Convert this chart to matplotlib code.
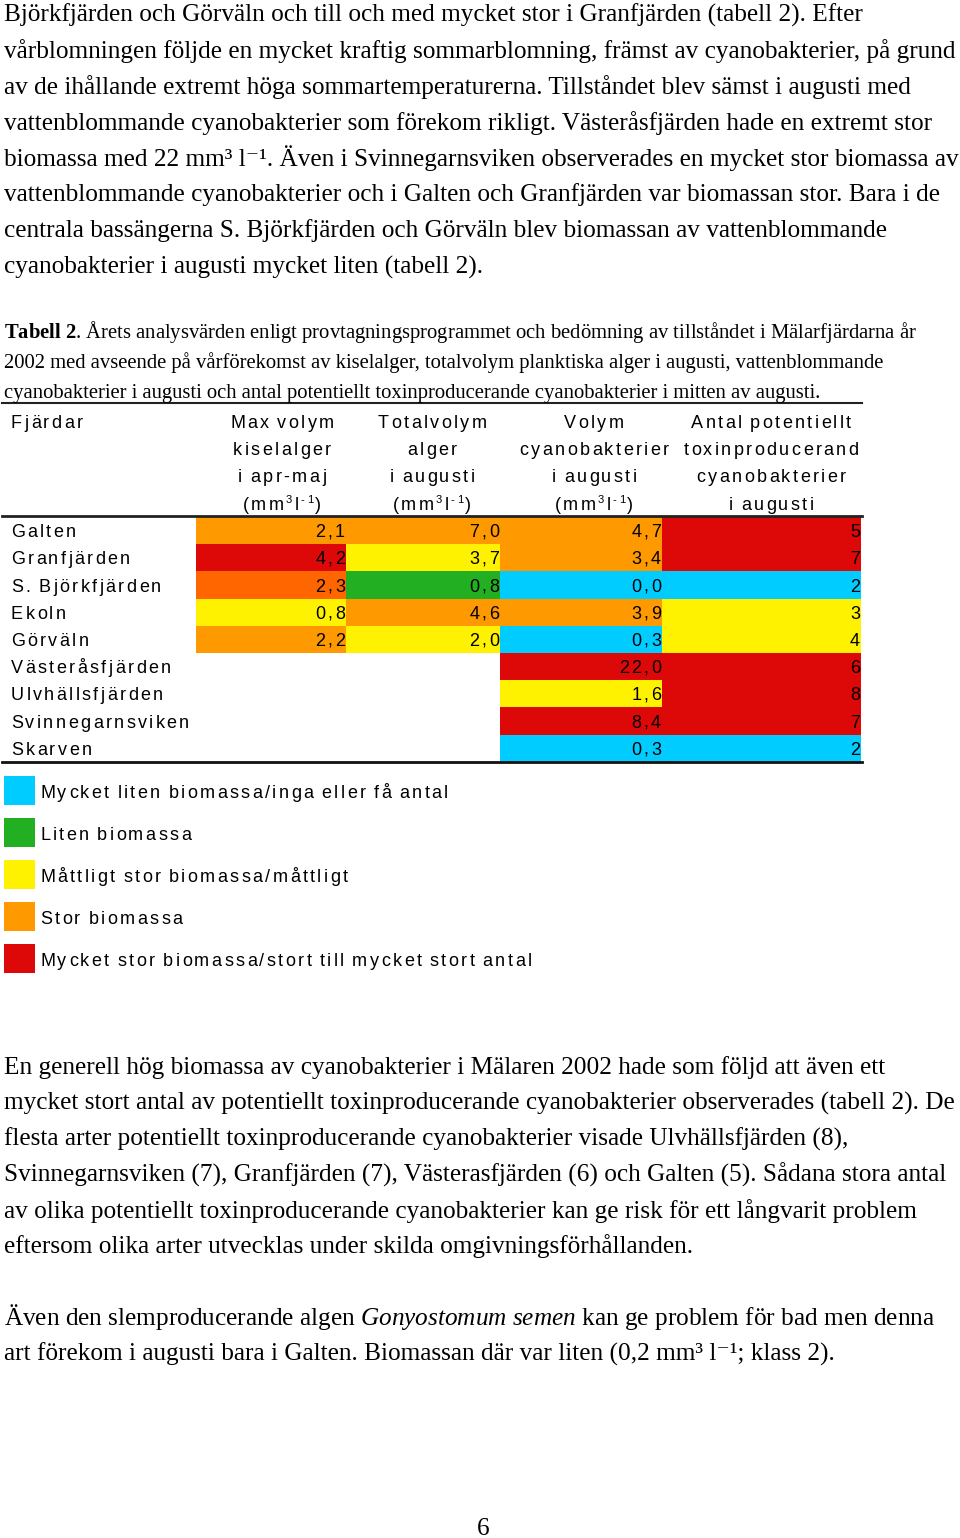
import matplotlib
matplotlib.use("Agg")
import matplotlib.pyplot as plt
from matplotlib.font_manager import FontProperties, findfont, get_font

plt.rcParams['mathtext.fontset'] = 'custom'
plt.rcParams['mathtext.rm'] = 'Liberation Serif'
plt.rcParams['mathtext.it'] = 'Liberation Serif:italic'
plt.rcParams['mathtext.bf'] = 'Liberation Serif:bold'

# text of the page
para1 = [
    "Björkfjärden och Görväln och till och med mycket stor i Granfjärden (tabell 2). Efter",
    "vårblomningen följde en mycket kraftig sommarblomning, främst av cyanobakterier, på grund",
    "av de ihållande extremt höga sommartemperaturerna. Tillståndet blev sämst i augusti med",
    "vattenblommande cyanobakterier som förekom rikligt. Västeråsfjärden hade en extremt stor",
    "biomassa med 22 mm³ l⁻¹. Även i Svinnegarnsviken observerades en mycket stor biomassa av",
    "vattenblommande cyanobakterier och i Galten och Granfjärden var biomassan stor. Bara i de",
    "centrala bassängerna S. Björkfjärden och Görväln blev biomassan av vattenblommande",
    "cyanobakterier i augusti mycket liten (tabell 2).",
]
caption = [
    r"$\mathbf{Tabell\ 2}$. Årets analysvärden enligt provtagningsprogrammet och bedömning av tillståndet i Mälarfjärdarna år",
    "2002 med avseende på vårförekomst av kiselalger, totalvolym planktiska alger i augusti, vattenblommande",
    "cyanobakterier i augusti och antal potentiellt toxinproducerande cyanobakterier i mitten av augusti.",
]
para2 = [
    "En generell hög biomassa av cyanobakterier i Mälaren 2002 hade som följd att även ett",
    "mycket stort antal av potentiellt toxinproducerande cyanobakterier observerades (tabell 2). De",
    "flesta arter potentiellt toxinproducerande cyanobakterier visade Ulvhällsfjärden (8),",
    "Svinnegarnsviken (7), Granfjärden (7), Västerasfjärden (6) och Galten (5). Sådana stora antal",
    "av olika potentiellt toxinproducerande cyanobakterier kan ge risk för ett långvarit problem",
    "eftersom olika arter utvecklas under skilda omgivningsförhållanden.",
]
para3 = [
    r"Även den slemproducerande algen $\mathit{Gonyostomum\ semen}$ kan ge problem för bad men denna",
    "art förekom i augusti bara i Galten. Biomassan där var liten (0,2 mm³ l⁻¹; klass 2).",
]

# table data
fjardar = ["Galten", "Granfjärden", "S. Björkfjärden", "Ekoln", "Görväln",
           "Västeråsfjärden", "Ulvhällsfjärden", "Svinnegarnsviken", "Skarven"]
headers = [
    ["Max volym", "kiselalger", "i apr-maj"],
    ["Totalvolym", "alger", "i augusti"],
    ["Volym", "cyanobakterier", "i augusti"],
    ["Antal potentiellt", "toxinproducerand", "cyanobakterier", "i augusti"],
]
kiselalger = [2.1, 4.2, 2.3, 0.8, 2.2]
kiselalger_klass = ["stor", "mstor", "stor2", "mattl", "stor"]
totalvolym = [7.0, 3.7, 0.8, 4.6, 2.0]
totalvolym_klass = ["stor", "mattl", "liten", "stor", "mattl"]
cyano = [4.7, 3.4, 0.0, 3.9, 0.3, 22.0, 1.6, 8.4, 0.3]
cyano_klass = ["stor", "stor", "mliten", "stor", "mliten", "mstor", "mattl", "mstor", "mliten"]
antal = [5, 7, 2, 3, 4, 6, 8, 7, 2]
antal_klass = ["mstor", "mstor", "mliten", "mattl", "mattl", "mstor", "mstor", "mstor", "mliten"]

colors = {"mliten": "#00CCFF", "liten": "#22B022", "mattl": "#FFF200",
          "stor": "#FF9900", "stor2": "#FF6600", "mstor": "#DD0808"}
legend_keys = ["mliten", "liten", "mattl", "stor", "mstor"]
legend_labels = ["Mycket liten biomassa/inga eller få antal",
                 "Liten biomassa",
                 "Måttligt stor biomassa/måttligt",
                 "Stor biomassa",
                 "Mycket stor biomassa/stort till mycket stort antal"]

fig = plt.figure(figsize=(9.6, 15.38), dpi=100)
ax = fig.add_axes([0, 0, 1, 1])
ax.set_xlim(0, 960)
ax.set_ylim(1538, 0)
ax.axis("off")

serif = ["Liberation Serif", "DejaVu Serif"]
sans = "Liberation Sans"
TS = 13  # table font size
SP = 2.4  # letter spacing in pixels


def adv(ch, size):
    f = get_font(findfont(FontProperties(family=sans)))
    f.set_size(size, 100)
    w = f.load_char(ord(ch)).linearHoriAdvance / 65536
    return w - SP + 1 if ch == " " else w


def spaced(x, y, segments, ha="left"):
    # letter-spaced sans text, segments: (text, size, raise)
    chars = [(c, s, d, adv(c, s)) for t, s, d in segments for c in t]
    total = sum(c[3] for c in chars) + SP * (len(chars) - 1)
    cx = x - total if ha == "right" else x - total / 2 if ha == "center" else x
    for c, s, d, w in chars:
        if c != " ":
            ax.text(cx, y - d, c, fontsize=s, family=sans, va="baseline")
        cx += w + SP


for i, line in enumerate(para1):
    ax.text(4, 22 + i * 35.9, line, fontsize=18.2, family=serif, va="baseline")
for i, line in enumerate(caption):
    ax.text(4, 338 + i * 30, line, fontsize=14.9, family=serif, va="baseline")
for i, line in enumerate(para2):
    ax.text(4, 1074 + i * 35.9, line, fontsize=18.2, family=serif, va="baseline")
for i, line in enumerate(para3):
    ax.text(4, 1325 + i * 35.9, line, fontsize=18.2, family=serif, va="baseline")
ax.text(483, 1535, "6", fontsize=18.2, family=serif, ha="center", va="baseline")

# table
row_top = 517
row_h = 27.2
n = len(fjardar)
rows = [row_top + row_h * (i + 0.5) for i in range(n)]
cols = [(196, 346), (346, 500), (500, 662), (662, 861)]
col_vals = [kiselalger, totalvolym, cyano, antal]
col_klass = [kiselalger_klass, totalvolym_klass, cyano_klass, antal_klass]

for (x0, x1), vals, kl in zip(cols, col_vals, col_klass):
    ax.barh(rows[:len(vals)], x1 - x0, left=x0, height=row_h,
            color=[colors[k] for k in kl], linewidth=0)
    for y, v in zip(rows, vals):
        s = str(v) if isinstance(v, int) else f"{v:.1f}".replace(".", ",")
        spaced(x1 - 1, y + 6.5, [(s, TS, 0)], ha="right")

for y, name in zip(rows, fjardar):
    spaced(11, y + 6.5, [(name, TS, 0)])

spaced(11, 427.5, [("Fjärdar", TS, 0)])
centers = [282, 432, 594, 771]
units = [("(mm", TS, 0), ("3", 8, 7), ("l", TS, 0), ("-1", 8, 7), (")", TS, 0)]
for cx, hdr in zip(centers, headers):
    lines = [[(h, TS, 0)] for h in hdr]
    if len(lines) == 3:
        lines.append(units)
    for j, segs in enumerate(lines):
        spaced(cx, 427.5 + j * 27.4, segs, ha="center")

ax.plot([2, 862], [403, 403], color="#222222", lw=1.5)
ax.plot([2, 862], [516, 516], color="#222222", lw=2)
ax.plot([2, 862], [762, 762], color="#111111", lw=2)

# legend
for i, (k, lab) in enumerate(zip(legend_keys, legend_labels)):
    yc = 790 + i * 42
    ax.bar(19.5, 29, bottom=yc - 14.5, width=31, color=colors[k], linewidth=0)
    spaced(40, yc + 8, [(lab, TS, 0)])

fig.savefig("out.png", dpi=100)
